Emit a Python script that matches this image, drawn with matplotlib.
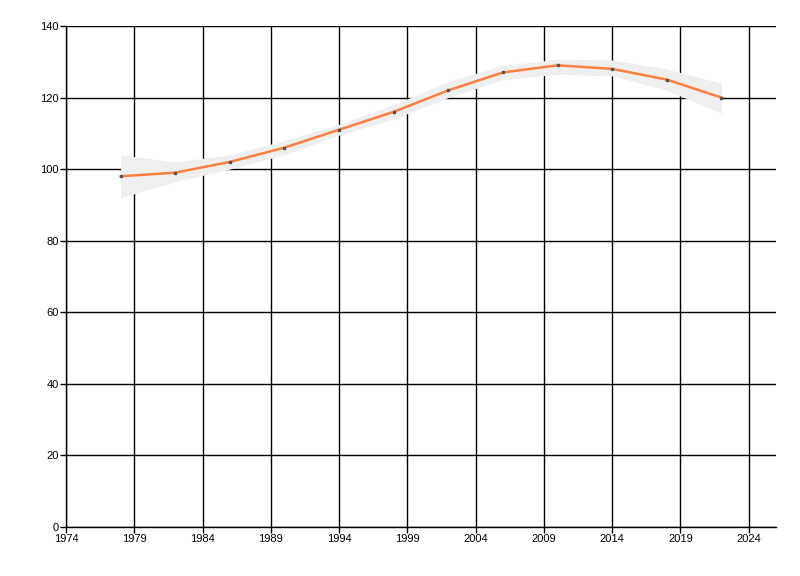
import matplotlib
matplotlib.use("Agg")
from matplotlib import pyplot as plt
import numpy as np

years = [1978, 1982, 1986, 1990, 1994, 1998, 2002, 2006, 2010, 2014, 2018, 2022]
values = [98, 99, 102, 106, 111, 116, 122, 127, 129, 128, 125, 120]
upper = [104, 102, 104, 108, 112.5, 118, 124.5, 129, 130.7, 130.5, 128, 124]
lower = [92, 96.5, 100, 104, 109.5, 114, 120, 125, 126.5, 126, 122, 115.6]

xticks = [1974, 1979, 1984, 1989, 1994, 1999, 2004, 2009, 2014, 2019, 2024]
yticks = [0, 20, 40, 60, 80, 100, 120, 140]

plt.rcParams['font.family'] = ['Liberation Sans', 'DejaVu Sans']

fig = plt.figure(figsize=(8, 5.76), dpi=100)
ax = fig.add_axes([0.0825, 0.085, 0.8875, 0.87])

ax.fill_between(years, lower, upper, color='#efefef', lw=0, zorder=3)
ax.plot(years, values, color='#ff7f3f', lw=1.8, zorder=4)
ax.plot(years, values, ls='none', marker='s', ms=2, color='#555555', zorder=5)

ax.set_xlim(1974, 2026)
ax.set_ylim(0, 140)
ax.set_xticks(xticks)
ax.set_yticks(yticks)
ax.grid(True, color='black', lw=1, zorder=1)
ax.set_axisbelow(True)
for s in ['top', 'right']:
    ax.spines[s].set_visible(False)
for s in ['left', 'bottom']:
    ax.spines[s].set_linewidth(1)
ax.tick_params(length=4, width=1, labelsize=8, pad=1)

fig.savefig('out.png', dpi=100)
